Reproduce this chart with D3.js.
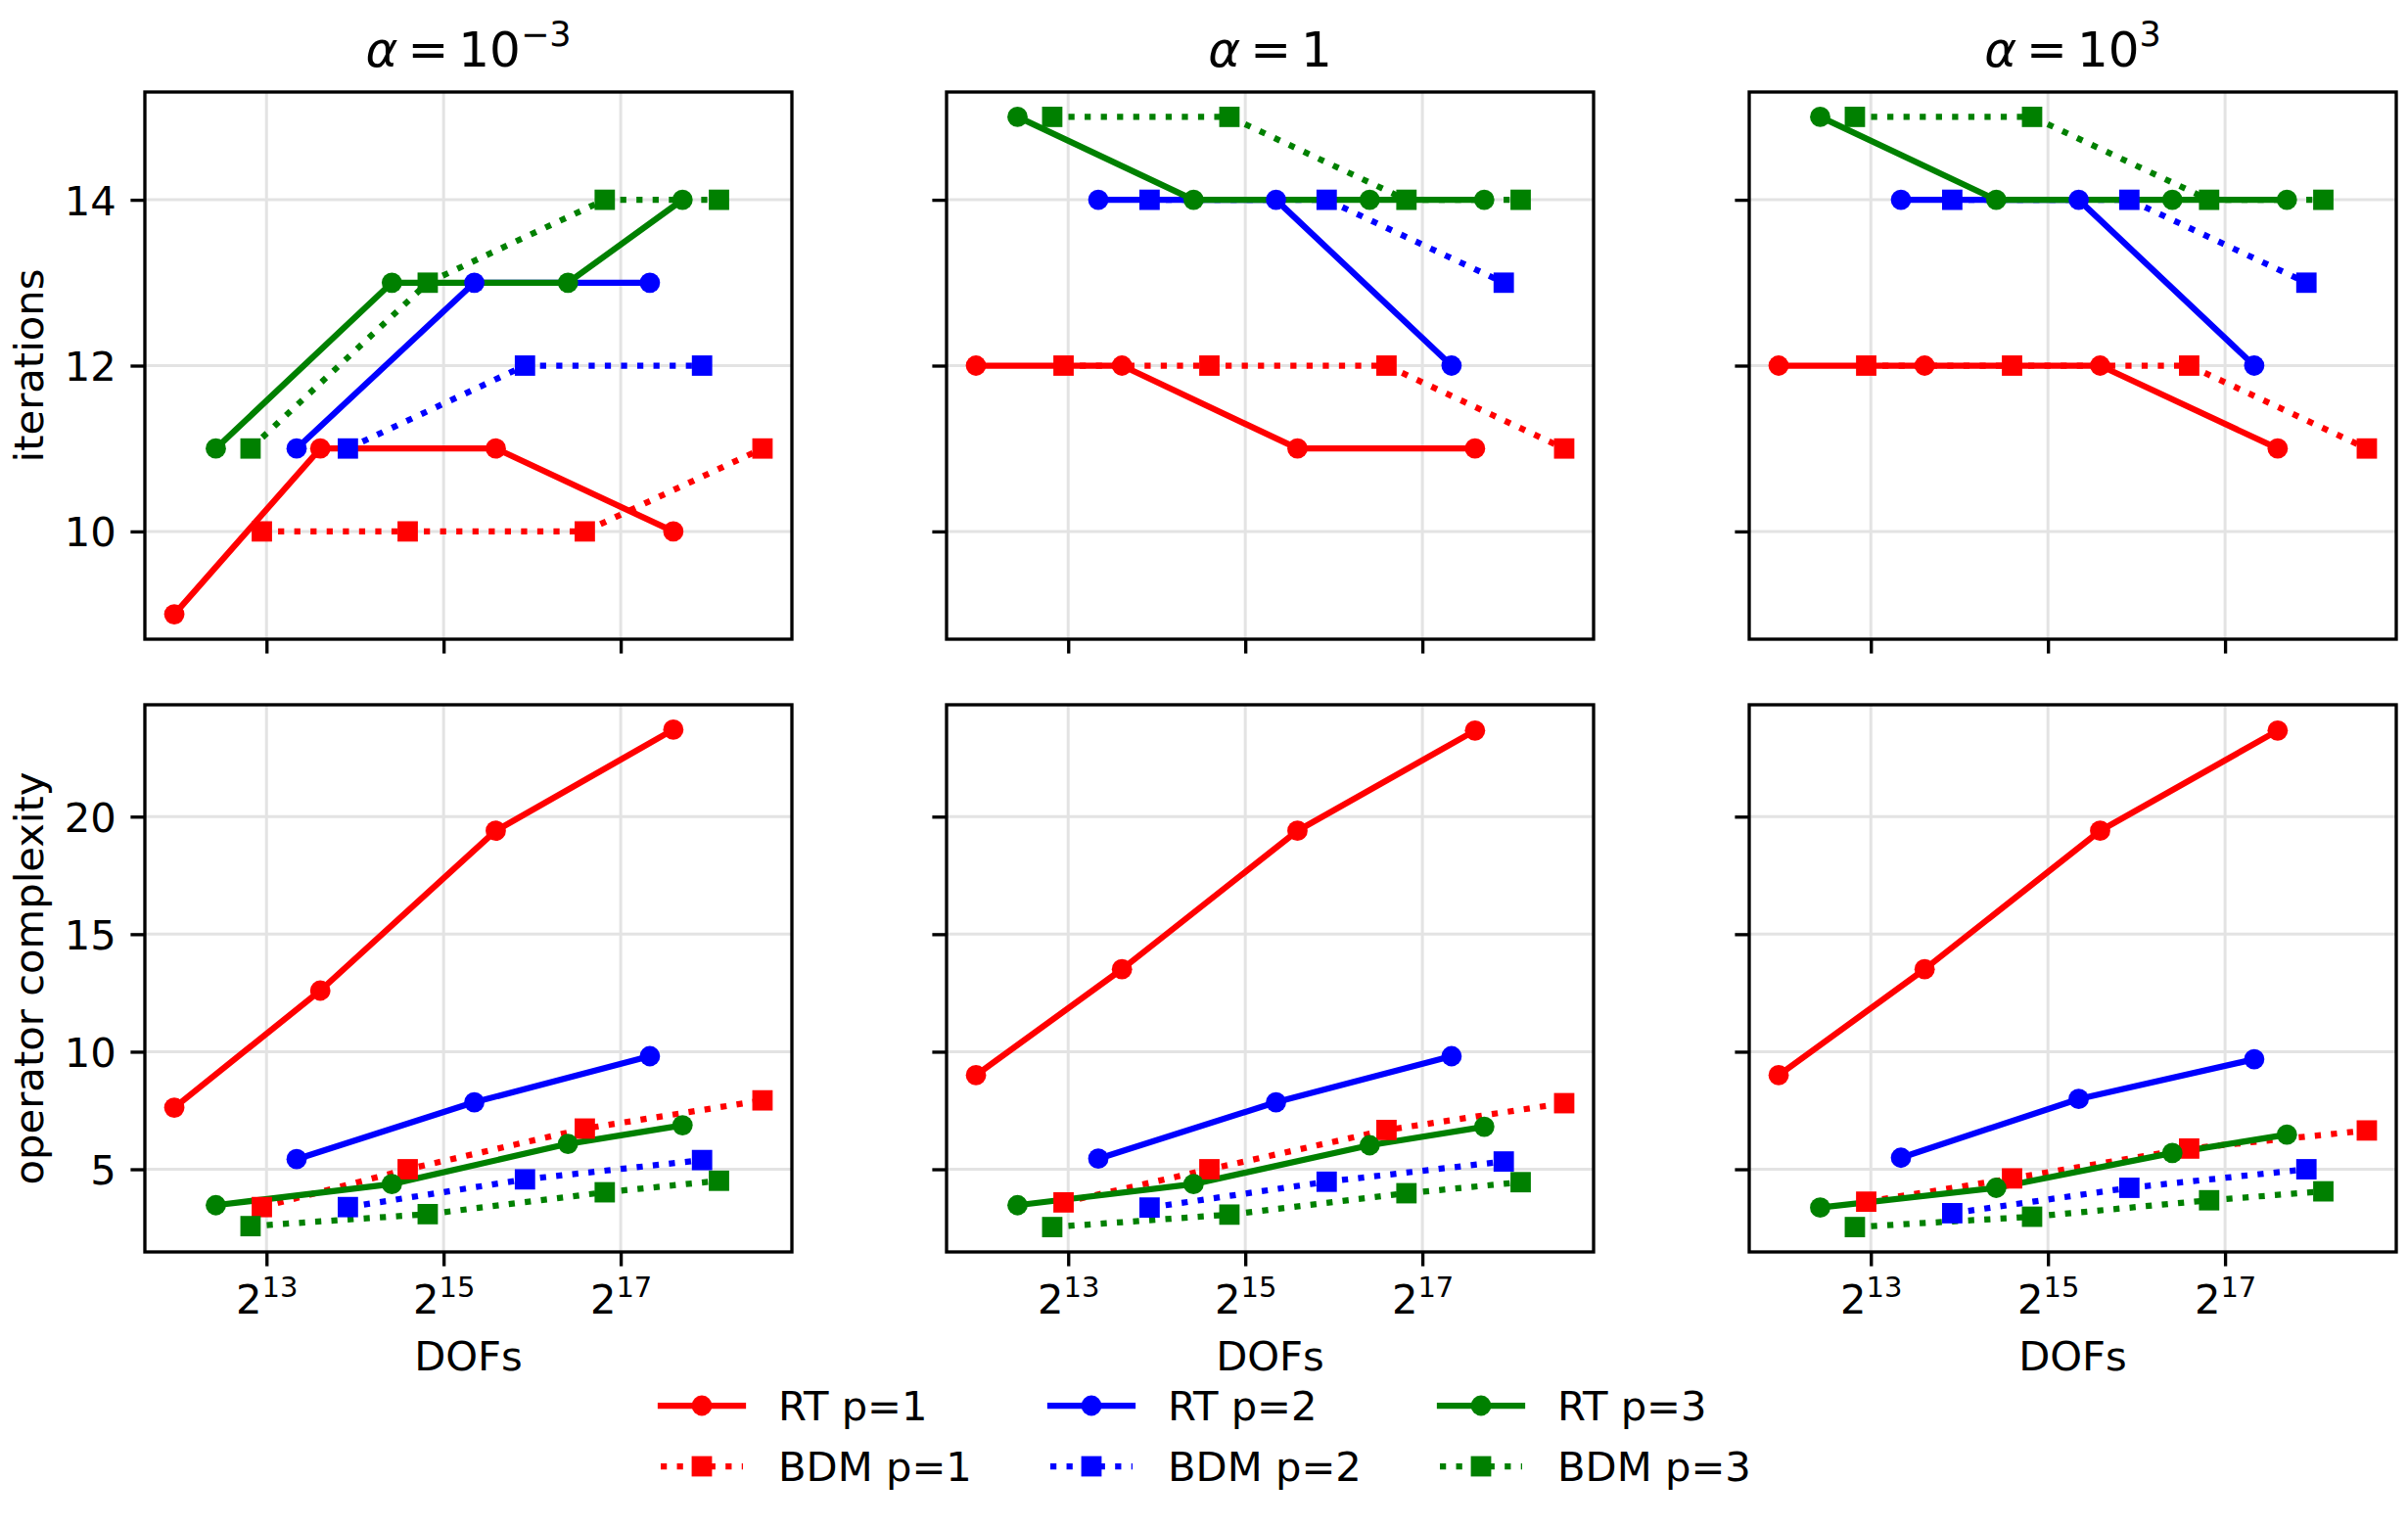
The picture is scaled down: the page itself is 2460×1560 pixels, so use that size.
<!DOCTYPE html>
<html lang="en">
<head>
  <meta charset="UTF-8">
  <title>Iterations and operator complexity vs DOFs</title>
  <style>
    body { margin: 0; background: #fff; }
    svg { display: block; font-family: "DejaVu Sans", sans-serif; }
  </style>
</head>
<body>
  <svg id="svg" width="2460" height="1560"></svg>
  <script src="https://d3js.org/d3.v7.min.js"></script>
  <script>
    // exponent shown in each column title (null -> alpha = 1)
    const alphaExp = ['\u22123', null, '3']
    const seriesNames = ['RT p=1', 'BDM p=1', 'RT p=2', 'BDM p=2', 'RT p=3', 'BDM p=3']

    // DOFs for each discretisation (same in every column)
    const dofsRT1 = [3980, 12480, 49300, 197900]
    const dofsBDM1 = [7900, 24740, 98970, 397700]
    const dofsRT2 = [10370, 41680, 164700]
    const dofsBDM2 = [15490, 61960, 247800]
    const dofsRT3 = [5510, 21860, 86770, 212700]
    const dofsBDM3 = [7230, 28940, 115700, 282900]

    // iterations, one list per series (order of seriesNames)
    const itersSmall = [[9, 11, 11, 10], [10, 10, 10, 11], [11, 13, 13], [11, 12, 12], [11, 13, 13, 14], [11, 13, 14, 14]]
    const itersOne = [[12, 12, 11, 11], [12, 12, 12, 11], [14, 14, 12], [14, 14, 13], [15, 14, 14, 14], [15, 15, 14, 14]]
    const itersLarge = [[12, 12, 12, 11], [12, 12, 12, 11], [14, 14, 12], [14, 14, 13], [15, 14, 14, 14], [15, 15, 14, 14]]

    // operator complexity
    const opcSmall = [[7.62, 12.6, 19.4, 23.7], [3.39, 5.0, 6.73, 7.93], [5.43, 7.85, 9.81], [3.39, 4.57, 5.39], [3.47, 4.37, 6.08, 6.87], [2.58, 3.09, 4.02, 4.51]]
    const opcOne = [[9.0, 13.51, 19.4, 23.66], [3.59, 5.0, 6.67, 7.81], [5.45, 7.85, 9.81], [3.37, 4.47, 5.33], [3.47, 4.37, 6.02, 6.81], [2.54, 3.07, 3.98, 4.45]]
    const opcLarge = [[9.0, 13.51, 19.4, 23.66], [3.62, 4.61, 5.88, 6.65], [5.49, 7.99, 9.68], [3.13, 4.21, 5.0], [3.37, 4.21, 5.69, 6.47], [2.54, 2.98, 3.68, 4.06]]

    const xTickExps = [13, 15, 17]
    const itersTicks = [10, 12, 14]
    const opcTicks = [5, 10, 15, 20]

    const dofs = [dofsRT1, dofsBDM1, dofsRT2, dofsBDM2, dofsRT3, dofsBDM3]
    const rows = [
      { label: 'iterations', panels: [itersSmall, itersOne, itersLarge], ticks: itersTicks },
      { label: 'operator complexity', panels: [opcSmall, opcOne, opcLarge], ticks: opcTicks }
    ]

    const colors = ['red', 'red', 'blue', 'blue', 'green', 'green']
    const dotted = [false, true, false, true, false, true]

    // layout (px, 300 dpi matplotlib look)
    const panelX = [148, 967, 1787]
    const rowY = [94, 720]
    const pw = 661, ph = 559
    const lw = 6.25, ms = 20.8, tickLen = 14.6, spineW = 3.33
    const fs = 41.7

    const svg = d3.select('#svg')

    // x: log2 with 5% margins, shared by all panels
    const allDofs = dofs.flat()
    const lx0 = Math.log2(d3.min(allDofs)), lx1 = Math.log2(d3.max(allDofs))
    const mx = 0.05 * (lx1 - lx0)
    const x = d3.scaleLog().base(2).domain([2 ** (lx0 - mx), 2 ** (lx1 + mx)]).range([0, pw])

    rows.forEach((row, r) => {
      const vals = row.panels.flat(2)
      const y0 = d3.min(vals), y1 = d3.max(vals), my = 0.05 * (y1 - y0)
      const y = d3.scaleLinear().domain([y0 - my, y1 + my]).range([ph, 0])

      row.panels.forEach((panel, c) => {
        const g = svg.append('g').attr('transform', `translate(${panelX[c]},${rowY[r]})`)

        // grid
        g.selectAll('.gx').data(xTickExps).enter().append('line')
          .attr('x1', d => x(2 ** d)).attr('x2', d => x(2 ** d))
          .attr('y1', 0).attr('y2', ph)
          .attr('stroke', '#e3e3e3').attr('stroke-width', 3)
        g.selectAll('.gy').data(row.ticks).enter().append('line')
          .attr('x1', 0).attr('x2', pw)
          .attr('y1', d => y(d)).attr('y2', d => y(d))
          .attr('stroke', '#e3e3e3').attr('stroke-width', 3)

        // axes (ticks)
        const ax = g.append('g').attr('transform', `translate(0,${ph})`)
          .call(d3.axisBottom(x).tickValues(xTickExps.map(e => 2 ** e)).tickSize(tickLen).tickPadding(14.6))
        const ay = g.append('g')
          .call(d3.axisLeft(y).tickValues(row.ticks).tickFormat(d3.format('d')).tickSize(tickLen).tickPadding(14.6))
        ;[ax, ay].forEach(a => {
          a.select('.domain').remove()
          a.selectAll('.tick line').attr('stroke', '#000').attr('stroke-width', spineW)
          a.selectAll('text').attr('font-size', fs).attr('font-family', '"DejaVu Sans", sans-serif').attr('fill', '#000')
        })

        if (r === rows.length - 1) {
          ax.selectAll('.tick text').each(function (d) {
            const t = d3.select(this).text('').attr('dy', null).attr('y', 63)
            t.append('tspan').text('2')
            t.append('tspan').attr('dy', -17).attr('font-size', 29).text(Math.round(Math.log2(d)))
          })
        } else {
          ax.selectAll('.tick text').remove()
        }
        if (c === 0) {
          ay.selectAll('.tick text').attr('dy', '0.36em')
        } else {
          ay.selectAll('.tick text').remove()
        }

        const line = d3.line().x(d => x(d[0])).y(d => y(d[1]))
        const series = panel.map((v, i) => v.map((val, k) => [dofs[i][k], val]))

        // lines first, then markers
        g.selectAll('.ln').data(series).enter().append('path')
          .attr('d', line)
          .attr('fill', 'none')
          .attr('stroke', (d, i) => colors[i])
          .attr('stroke-width', lw)
          .attr('stroke-linejoin', 'round')
          .attr('stroke-dasharray', (d, i) => dotted[i] ? '6.25,10.3' : null)

        series.forEach((pts, i) => {
          if (dotted[i]) {
            g.selectAll(null).data(pts).enter().append('rect')
              .attr('x', d => x(d[0]) - ms / 2).attr('y', d => y(d[1]) - ms / 2)
              .attr('width', ms).attr('height', ms)
              .attr('fill', colors[i])
          } else {
            g.selectAll(null).data(pts).enter().append('circle')
              .attr('cx', d => x(d[0])).attr('cy', d => y(d[1]))
              .attr('r', ms / 2)
              .attr('fill', colors[i])
          }
        })

        // frame
        g.append('rect').attr('width', pw).attr('height', ph)
          .attr('fill', 'none').attr('stroke', '#000').attr('stroke-width', spineW)

        // column titles
        if (r === 0) {
          const t = svg.append('text')
            .attr('x', panelX[c] + pw / 2).attr('y', 68)
            .attr('text-anchor', 'middle').attr('font-size', 50)
          t.append('tspan').attr('font-style', 'italic').text('\u03b1')
          if (alphaExp[c] === null) {
            t.append('tspan').text('\u2009=\u20091')
          } else {
            t.append('tspan').text('\u2009=\u200910')
            t.append('tspan').attr('dy', -21).attr('font-size', 35).text(alphaExp[c])
          }
        }
        if (r === rows.length - 1) {
          svg.append('text')
            .attr('x', panelX[c] + pw / 2).attr('y', 1400)
            .attr('text-anchor', 'middle').attr('font-size', fs)
            .text('DOFs')
        }
      })

      // y label
      const cy = rowY[r] + ph / 2
      svg.append('text')
        .attr('x', 44).attr('y', cy)
        .attr('transform', `rotate(-90,44,${cy})`)
        .attr('text-anchor', 'middle').attr('font-size', fs)
        .text(row.label)
    })

    // legend: 3 columns, filled column by column
    const legX = [675, 1073, 1471]
    const legY = [1436, 1498]
    const leg = svg.append('g')
    seriesNames.forEach((name, i) => {
      const lx = legX[Math.floor(i / 2)], ly = legY[i % 2]
      leg.append('line')
        .attr('x1', lx).attr('x2', lx + 84).attr('y1', ly).attr('y2', ly)
        .attr('stroke', colors[i]).attr('stroke-width', lw)
        .attr('stroke-linecap', dotted[i] ? 'butt' : 'square')
        .attr('stroke-dasharray', dotted[i] ? '6.25,10.3' : null)
      if (dotted[i]) {
        leg.append('rect').attr('x', lx + 42 - ms / 2).attr('y', ly - ms / 2)
          .attr('width', ms).attr('height', ms).attr('fill', colors[i])
      } else {
        leg.append('circle').attr('cx', lx + 42).attr('cy', ly).attr('r', ms / 2).attr('fill', colors[i])
      }
      leg.append('text').attr('x', lx + 120).attr('y', ly + 15)
        .attr('font-size', fs).text(name)
    })
  </script>
</body>
</html>
